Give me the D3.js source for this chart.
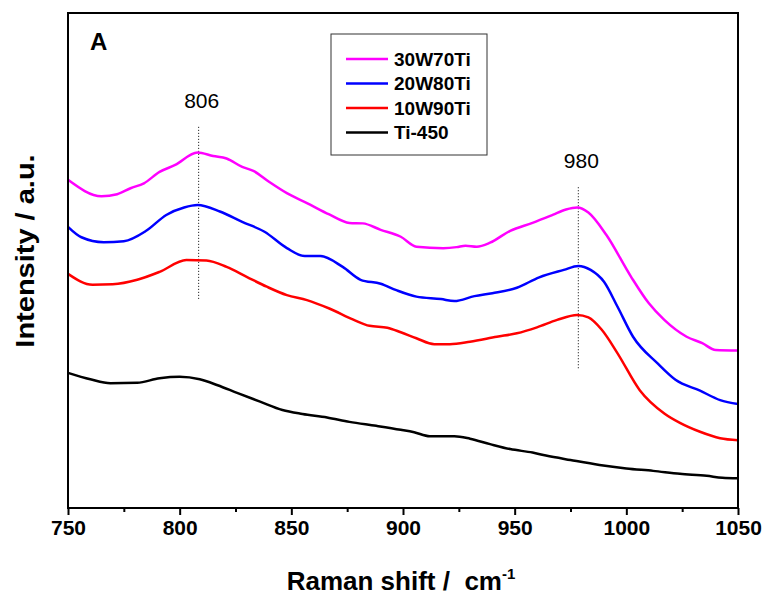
<!DOCTYPE html>
<html>
<head>
<meta charset="utf-8">
<script src="https://cdn.jsdelivr.net/npm/d3@7"></script>
<style>
  body { margin: 0; background: #fff; }
  svg { display: block; font-family: Arial, "Liberation Sans", sans-serif; }
</style>
</head>
<body>
<svg id="raman" width="767" height="597"></svg>
<script>
// Raman shift (cm-1) and intensity (a.u.)
const seriesNames = ["30W70Ti", "20W80Ti", "10W90Ti", "Ti-450"];
const seriesColours = ["#ff00ff", "#0000ff", "#ff0000", "#000000"];

const shift30W = [750, 765, 772, 778, 784, 791, 798, 808, 815, 821, 828, 833, 840, 848, 857, 867, 876, 882, 890, 899, 906, 918, 924, 928, 933, 939, 948, 958, 967, 973, 978, 983, 991, 1002, 1010, 1017, 1027, 1034, 1040, 1050];
const intensity30W = [66.3, 63.0, 63.4, 64.6, 65.6, 67.9, 69.3, 71.8, 71.1, 70.6, 68.9, 68.1, 65.9, 63.6, 61.6, 59.3, 57.6, 57.5, 56.2, 54.8, 52.8, 52.5, 52.7, 53.0, 52.8, 53.6, 56.0, 57.6, 59.2, 60.3, 60.7, 59.7, 55.2, 46.8, 41.4, 38.0, 34.6, 33.3, 31.9, 31.8];

const shift20W = [750, 756, 766, 775, 785, 794, 802, 808, 818, 828, 838, 848, 856, 863, 873, 881, 890, 897, 906, 917, 923, 932, 940, 951, 961, 972, 978.5, 984, 990, 996, 1003, 1014, 1022, 1033, 1042, 1050];
const intensity20W = [56.8, 54.7, 53.7, 53.9, 56.0, 59.2, 60.7, 61.2, 59.9, 57.8, 55.8, 52.5, 50.9, 50.9, 48.7, 46.1, 45.3, 44.0, 42.7, 42.2, 41.8, 42.8, 43.4, 44.5, 46.6, 48.1, 48.9, 48.1, 45.7, 40.7, 34.6, 29.2, 25.9, 23.7, 21.8, 21.0];

const shift10W = [750, 761, 770, 781, 791, 803, 812, 821, 830, 839, 848, 857, 867, 878, 885, 893, 899, 906, 914, 921, 930, 942, 951, 960, 969, 978, 983, 989, 996, 1006, 1017, 1024, 1033, 1042, 1050];
const intensity10W = [47.3, 45.1, 45.2, 46.1, 47.7, 50.1, 50.0, 48.7, 46.7, 44.7, 43.0, 42.0, 40.3, 38.0, 36.8, 36.4, 35.5, 34.3, 33.1, 33.1, 33.6, 34.6, 35.3, 36.5, 38.0, 39.0, 38.5, 36.0, 31.3, 23.8, 19.1, 17.2, 15.4, 14.1, 13.7];

const shiftTi = [750, 760, 769, 781, 791, 800, 809, 817, 826, 836, 846, 855, 866, 876, 888, 899, 905, 912, 923, 930, 939, 948, 958, 964, 975, 988, 1000, 1012, 1024, 1036, 1043, 1050];
const intensityTi = [27.3, 26.0, 25.2, 25.3, 26.2, 26.5, 26.0, 24.8, 23.2, 21.5, 19.8, 19.0, 18.3, 17.4, 16.6, 15.8, 15.3, 14.5, 14.5, 14.0, 12.9, 11.9, 11.2, 10.6, 9.7, 8.7, 8.0, 7.5, 6.9, 6.5, 6.1, 6.0];

// peak markers: label, position, dotted line span (intensity)
const peakLabels = ["806", "980"];
const peakShifts = [808.5, 978.5];
const peakLineTop = [77.0, 64.8];
const peakLineBottom = [42.0, 28.2];

const xTicks = [750, 800, 850, 900, 950, 1000, 1050];

const drawChart = () => {
    const svg = d3.select("#raman");
    const margin = { top: 13, right: 29, bottom: 89, left: 68 };
    const width = 767 - margin.left - margin.right;
    const height = 597 - margin.top - margin.bottom;

    const chartArea = svg.append("g")
        .attr("transform", `translate(${margin.left},${margin.top})`);

    const xScale = d3.scaleLinear().domain([750, 1050]).range([0, width]);
    const yScale = d3.scaleLinear().domain([0, 100]).range([height, 0]);

    const series = [
        d3.zip(shift30W, intensity30W),
        d3.zip(shift20W, intensity20W),
        d3.zip(shift10W, intensity10W),
        d3.zip(shiftTi, intensityTi)
    ];

    const line = d3.line()
        .x(d => xScale(d[0]))
        .y(d => yScale(d[1]))
        .curve(d3.curveMonotoneX);

    // dotted peak markers
    chartArea.selectAll(".peak-line")
        .data(peakShifts)
        .join("line")
        .attr("class", "peak-line")
        .attr("x1", d => xScale(d))
        .attr("x2", d => xScale(d))
        .attr("y1", (d, i) => yScale(peakLineTop[i]))
        .attr("y2", (d, i) => yScale(peakLineBottom[i]))
        .attr("stroke", "#000")
        .attr("stroke-width", 1)
        .attr("stroke-dasharray", "1,2");

    chartArea.selectAll(".peak-label")
        .data(peakLabels)
        .join("text")
        .attr("class", "peak-label")
        .attr("x", (d, i) => xScale(peakShifts[i]) + 3)
        .attr("y", (d, i) => yScale(peakLineTop[i]) - 19)
        .attr("text-anchor", "middle")
        .attr("font-size", 21)
        .text(d => d);

    chartArea.selectAll(".spectrum")
        .data(series)
        .join("path")
        .attr("class", "spectrum")
        .attr("fill", "none")
        .attr("stroke", (d, i) => seriesColours[i])
        .attr("stroke-width", 2.5)
        .attr("stroke-linejoin", "round")
        .attr("d", line);

    // x axis with minor ticks
    const xAxis = chartArea.append("g")
        .attr("transform", `translate(0,${height})`);
    xAxis.append("g")
        .call(d3.axisBottom(xScale).tickValues(d3.range(775, 1050, 50)).tickSize(4).tickFormat(""))
        .call(g => g.select(".domain").remove())
        .selectAll("line").attr("stroke-width", 2);
    xAxis.append("g")
        .call(d3.axisBottom(xScale).tickValues(xTicks).tickSize(7).tickPadding(5).tickFormat(d3.format("d")))
        .call(g => g.select(".domain").remove())
        .call(g => g.selectAll("line").attr("stroke-width", 2))
        .call(g => g.selectAll("text")
            .attr("font-size", 21)
            .attr("font-weight", "bold")
            .attr("fill", "#000"));

    // frame
    chartArea.append("rect")
        .attr("width", width)
        .attr("height", height)
        .attr("fill", "none")
        .attr("stroke", "#000")
        .attr("stroke-width", 2);

    chartArea.append("text")
        .attr("x", 22)
        .attr("y", 37)
        .attr("font-size", 24)
        .attr("font-weight", "bold")
        .text("A");

    // legend
    const legend = chartArea.append("g")
        .attr("transform", `translate(${331 - margin.left},${34 - margin.top})`);
    legend.append("rect")
        .attr("width", 156)
        .attr("height", 121)
        .attr("fill", "#fff")
        .attr("stroke", "#333")
        .attr("stroke-width", 1);
    const entries = legend.selectAll(".legend-entry")
        .data(seriesNames)
        .join("g")
        .attr("class", "legend-entry")
        .attr("transform", (d, i) => `translate(0,${25 + i * 24.5})`);
    entries.append("line")
        .attr("x1", 15)
        .attr("x2", 57)
        .attr("stroke", (d, i) => seriesColours[i])
        .attr("stroke-width", 2.5);
    entries.append("text")
        .attr("x", 63)
        .attr("dy", "0.35em")
        .attr("font-size", 19)
        .attr("font-weight", "bold")
        .text(d => d);

    // axis titles
    const xTitle = svg.append("text")
        .attr("x", 401)
        .attr("y", 590)
        .attr("text-anchor", "middle")
        .attr("font-size", 26)
        .attr("font-weight", "bold")
        .style("white-space", "pre");
    xTitle.append("tspan").text("Raman shift /  cm");
    xTitle.append("tspan")
        .attr("font-size", 15)
        .attr("dy", -11)
        .text("-1");

    svg.append("text")
        .attr("transform", "translate(34,251) rotate(-90) scale(1.16,1)")
        .attr("text-anchor", "middle")
        .attr("font-size", 25)
        .attr("font-weight", "bold")
        .text("Intensity / a.u.");
};

drawChart();
</script>
</body>
</html>
